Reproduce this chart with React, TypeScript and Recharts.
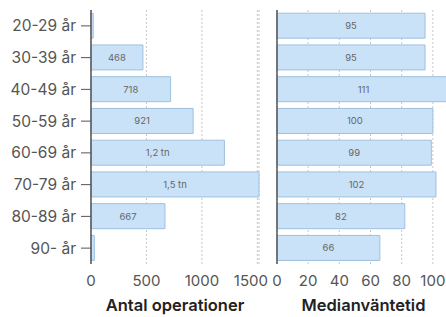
import React from 'react';
import { BarChart, Bar, XAxis, YAxis, CartesianGrid, LabelList } from 'recharts';

const categories = ['20-29 år', '30-39 år', '40-49 år', '50-59 år', '60-69 år', '70-79 år', '80-89 år', '90- år'];
const operations = [20, 468, 718, 921, 1203, 1515, 667, 30];
const medianWait = [95, 95, 111, 100, 99, 102, 82, 66];
const opsTicks = [0, 500, 1000, 1500];
const waitTicks = [0, 20, 40, 60, 80, 100];

const leftData = categories.map((c, i) => ({ cat: c, value: operations[i] }));
const rightData = categories.map((c, i) => ({ cat: c, value: medianWait[i] }));

const FONT = 'Inter, "Noto Sans", sans-serif';
const FILL = '#c9e2f8';
const STROKE = '#9fc0de';

const fmtOps = (v: any) => {
  const n = Number(v);
  if (n < 100) return '';
  if (n >= 1000) return (Math.round(n / 100) / 10).toString().replace('.', ',') + ' tn';
  return String(n);
};

const tickStyle = { fontSize: 15, fill: '#555', fontFamily: FONT };
const titleStyle = { fontSize: 16.5, fontWeight: 600, fill: '#222', fontFamily: FONT };
const barLabelStyle = { fontSize: 9.5, fill: '#666', fontFamily: FONT };

export default function App() {
  return (
    <div style={{ position: 'absolute', left: 0, top: 0, width: 446, height: 317, overflow: 'hidden', fontFamily: FONT }}>
      <div style={{ position: 'absolute', left: 8, top: 8 }}>
        <BarChart
          width={260}
          height={309}
          data={leftData}
          layout="vertical"
          barCategoryGap="10%"
          margin={{ top: 2, right: 9, bottom: 0, left: 0 }}
        >
          <CartesianGrid horizontal={false} strokeDasharray="2 2" stroke="#c8c8c8" />
          <XAxis
            type="number"
            domain={[0, 'dataMax']}
            ticks={opsTicks}
            axisLine={false}
            tickLine={false}
            tickMargin={5}
            height={53}
            tick={tickStyle}
            label={{ value: 'Antal operationer', position: 'insideBottom', offset: 6, style: titleStyle }}
          />
          <YAxis
            type="category"
            dataKey="cat"
            width={83}
            axisLine={{ stroke: '#555', strokeWidth: 1.5 }}
            tickLine={{ stroke: '#555' }}
            tickSize={10}
            tickMargin={5}
            tick={{ ...tickStyle, fontSize: 15.5 }}
          />
          <Bar dataKey="value" fill={FILL} stroke={STROKE} strokeWidth={1} isAnimationActive={false}>
            <LabelList dataKey="value" position="center" formatter={fmtOps} style={barLabelStyle} />
          </Bar>
        </BarChart>
      </div>
      <div style={{ position: 'absolute', left: 268, top: 8 }}>
        <BarChart
          width={182}
          height={309}
          data={rightData}
          layout="vertical"
          barCategoryGap="10%"
          margin={{ top: 2, right: 0, bottom: 0, left: 0 }}
        >
          <CartesianGrid horizontal={false} strokeDasharray="2 2" stroke="#c8c8c8" />
          <XAxis
            type="number"
            domain={[0, 'dataMax']}
            ticks={waitTicks}
            axisLine={false}
            tickLine={false}
            tickMargin={5}
            height={53}
            tick={tickStyle}
            label={{ value: 'Medianväntetid', position: 'insideBottom', offset: 6, style: titleStyle }}
          />
          <YAxis
            type="category"
            dataKey="cat"
            width={9}
            axisLine={{ stroke: '#555', strokeWidth: 1.5 }}
            tickLine={false}
            tick={false}
          />
          <Bar dataKey="value" fill={FILL} stroke={STROKE} strokeWidth={1} isAnimationActive={false}>
            <LabelList dataKey="value" position="center" style={barLabelStyle} />
          </Bar>
        </BarChart>
      </div>
    </div>
  );
}
